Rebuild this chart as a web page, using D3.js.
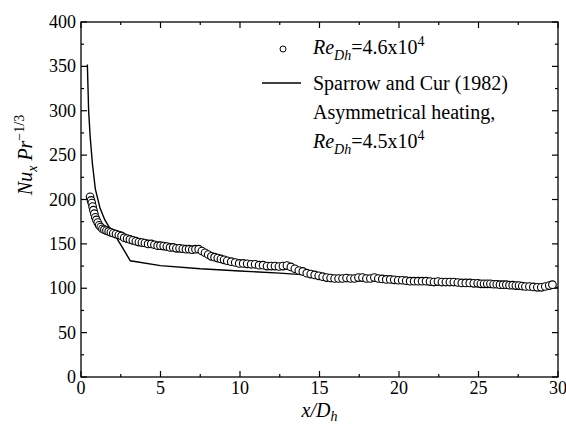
<!DOCTYPE html>
<html>
<head>
<meta charset="utf-8">
<script src="https://cdn.jsdelivr.net/npm/d3@7"></script>
<style>
    body { margin: 0; background: #fff; }
</style>
</head>
<body>
<div id="chart"></div>
<script>
// measured data, Re_Dh = 4.6x10^4 (circles)
var expX = [0.57, 0.63, 0.68, 0.73, 0.78, 0.84, 0.9, 0.97, 1.05, 1.14, 1.24, 1.35, 1.47, 1.6, 1.74, 1.88, 2.03,
    2.2, 2.38, 2.55, 2.72, 2.9, 3.08, 3.26, 3.45, 3.64, 3.83, 4.02, 4.22, 4.42, 4.62, 4.82,
    5.0, 5.2, 5.4, 5.6, 5.8, 6.0, 6.2, 6.4, 6.6, 6.8, 7.0, 7.2, 7.4, 7.6, 7.8, 8.0, 8.2, 8.4, 8.6, 8.8, 9.0, 9.2, 9.45, 9.7, 9.95,
    10.2, 10.45, 10.7, 10.95, 11.2, 11.45, 11.7, 11.95, 12.2, 12.45, 12.7, 12.95, 13.2, 13.45, 13.7, 13.95, 14.2, 14.45, 14.7, 14.95, 15.2,
    15.45, 15.7, 15.95, 16.2, 16.45, 16.7, 16.95, 17.2, 17.45, 17.7, 17.95, 18.2, 18.45, 18.7, 18.95, 19.2, 19.45, 19.7, 19.95,
    20.2, 20.45, 20.7, 20.95, 21.2, 21.45, 21.7, 21.95, 22.2, 22.45, 22.7, 22.95, 23.2, 23.45, 23.7, 23.95, 24.2, 24.45, 24.7, 24.95,
    25.15, 25.35, 25.55, 25.75, 25.95, 26.15, 26.35, 26.55, 26.75, 26.95, 27.15, 27.35, 27.55, 27.75, 27.95, 28.2, 28.45, 28.7, 28.95, 29.2, 29.45, 29.65];
var expY = [203, 199, 196, 192, 188, 184, 180, 177, 174, 171, 169, 167, 166, 165, 164, 163, 162,
    161, 160, 159, 157, 156, 155, 154, 153, 152, 151.5, 151, 150, 150, 149, 148,
    148, 147.5, 147, 146, 146, 145, 145, 144.5, 144, 144, 143.5, 144, 144, 142, 140, 138, 136, 135, 134, 133, 132, 131, 130, 129, 128,
    128, 127.5, 127, 127, 126, 126, 125, 125, 125, 124.5, 125, 125.5, 124, 122, 120, 119, 117, 116, 115, 114, 113,
    112, 111.5, 111, 111, 111, 111.5, 111, 111, 112, 112, 111, 111, 112, 111, 110.5, 110, 110, 109.5, 109,
    109, 108.5, 108, 108, 108, 108, 108, 107.5, 107, 107.5, 107, 107, 107, 107, 106.5, 106, 106, 106, 105.5, 105.5,
    105, 105, 105, 105, 104.5, 104.5, 104, 104, 104, 103.5, 103.5, 103, 103, 102.5, 102, 102, 101.5, 101, 101, 102, 103, 104];

// Sparrow and Cur (1982), asymmetrical heating, Re_Dh = 4.5x10^4 (line)
var corrX = [0.4, 0.48, 0.58, 0.72, 0.9, 1.2, 1.5, 1.8, 2.2, 2.6, 3.1, 5, 7.5, 10, 12.5, 15, 17.5, 20, 22.5, 25, 27.5, 30];
var corrY = [352, 300, 270, 240, 212, 190, 177, 168, 158, 146, 131, 125.5, 122, 119.5, 117, 114, 112, 110, 108, 106, 103.5, 101];

var xTicks = [0, 5, 10, 15, 20, 25, 30];
var yTicks = [0, 50, 100, 150, 200, 250, 300, 350, 400];

var serif = "Liberation Serif, DejaVu Serif, Times New Roman, serif";

// SVG drawing area
var margin = {top: 22, right: 8, bottom: 48, left: 81};
var fullWidth = 566, fullHeight = 425;
var width = fullWidth - margin.left - margin.right;
var height = fullHeight - margin.top - margin.bottom;

var svg = d3.select("#chart").append("svg")
    .attr("width", fullWidth)
    .attr("height", fullHeight)
    .attr("font-family", serif);

var g = svg.append("g")
    .attr("transform", "translate(" + margin.left + "," + margin.top + ")");

var x = d3.scaleLinear().domain([0, 30]).range([0, width]);
var y = d3.scaleLinear().domain([0, 400]).range([height, 0]);

// frame
g.append("rect")
    .attr("width", width)
    .attr("height", height)
    .attr("fill", "none")
    .attr("stroke", "#000")
    .attr("stroke-width", 1.3);

// inward ticks on all four sides (major + minor)
function drawTicks(axis, scale, major, minor, len, lenMinor) {
    var all = major.map(function (v) { return {v: v, len: len}; })
        .concat(minor.map(function (v) { return {v: v, len: lenMinor}; }));
    all.forEach(function (t) {
        var p = scale(t.v);
        if (axis === "x") {
            g.append("line").attr("x1", p).attr("x2", p).attr("y1", height).attr("y2", height - t.len);
            g.append("line").attr("x1", p).attr("x2", p).attr("y1", 0).attr("y2", t.len);
        } else {
            g.append("line").attr("y1", p).attr("y2", p).attr("x1", 0).attr("x2", t.len);
            g.append("line").attr("y1", p).attr("y2", p).attr("x1", width).attr("x2", width - t.len);
        }
    });
}
drawTicks("x", x, xTicks, xTicks.slice(1).map(function (d) { return d - 2.5; }), 6, 3);
drawTicks("y", y, yTicks, yTicks.slice(1).map(function (d) { return d - 25; }), 6, 3);
g.selectAll("line").attr("stroke", "#000").attr("stroke-width", 1.2);

// tick labels
g.selectAll("text.xtick")
    .data(xTicks)
    .enter().append("text")
    .attr("class", "xtick")
    .attr("x", function (d) { return x(d); })
    .attr("y", height + 17)
    .attr("text-anchor", "middle")
    .attr("font-size", 18)
    .text(function (d) { return d; });

g.selectAll("text.ytick")
    .data(yTicks)
    .enter().append("text")
    .attr("class", "ytick")
    .attr("x", -5)
    .attr("y", function (d) { return y(d) + 6; })
    .attr("text-anchor", "end")
    .attr("font-size", 18)
    .text(function (d) { return d; });

// axis titles
var xTitle = svg.append("text")
    .attr("x", margin.left + x(15))
    .attr("y", 417)
    .attr("text-anchor", "middle")
    .attr("font-size", 20)
    .attr("font-style", "italic");
xTitle.append("tspan").text("x/D");
xTitle.append("tspan").attr("dy", 4).attr("font-size", 14).text("h");

var yTitle = svg.append("text")
    .attr("transform", "translate(32,155) rotate(-90)")
    .attr("text-anchor", "middle")
    .attr("font-size", 20)
    .attr("font-style", "italic");
yTitle.append("tspan").text("Nu");
yTitle.append("tspan").attr("dy", 5).attr("font-size", 14).text("x");
yTitle.append("tspan").attr("dy", -5).text(" Pr");
yTitle.append("tspan").attr("dy", -8).attr("font-size", 14).attr("font-style", "normal").text("\u22121/3");

// correlation line
var line = d3.line()
    .x(function (d) { return x(d[0]); })
    .y(function (d) { return y(d[1]); });

g.append("path")
    .datum(d3.zip(corrX, corrY))
    .attr("d", line)
    .attr("fill", "none")
    .attr("stroke", "#000")
    .attr("stroke-width", 1.4);

// experimental points
g.selectAll("circle.exp")
    .data(d3.zip(expX, expY))
    .enter().append("circle")
    .attr("class", "exp")
    .attr("cx", function (d) { return x(d[0]); })
    .attr("cy", function (d) { return y(d[1]); })
    .attr("r", 3.8)
    .attr("fill", "#fff")
    .attr("stroke", "#000")
    .attr("stroke-width", 1.1);

// legend
var leg = svg.append("g");
leg.append("circle")
    .attr("cx", 283).attr("cy", 49).attr("r", 3)
    .attr("fill", "#fff").attr("stroke", "#000").attr("stroke-width", 1);
leg.append("line")
    .attr("x1", 262).attr("x2", 301).attr("y1", 83).attr("y2", 83)
    .attr("stroke", "#000").attr("stroke-width", 1.3);

function reText(yPos, val) {
    var t = leg.append("text").attr("x", 313).attr("y", yPos).attr("font-size", 20);
    t.append("tspan").attr("font-style", "italic").text("Re");
    t.append("tspan").attr("dy", 6).attr("font-style", "italic").attr("font-size", 14).text("Dh");
    t.append("tspan").attr("dy", -6).text("=" + val + "x10");
    t.append("tspan").attr("dy", -8).attr("font-size", 14).text("4");
}
reText(54, "4.6");
leg.append("text").attr("x", 313).attr("y", 90).attr("font-size", 20).text("Sparrow and Cur (1982)");
leg.append("text").attr("x", 313).attr("y", 119).attr("font-size", 20).text("Asymmetrical heating,");
reText(148, "4.5");
</script>
</body>
</html>
